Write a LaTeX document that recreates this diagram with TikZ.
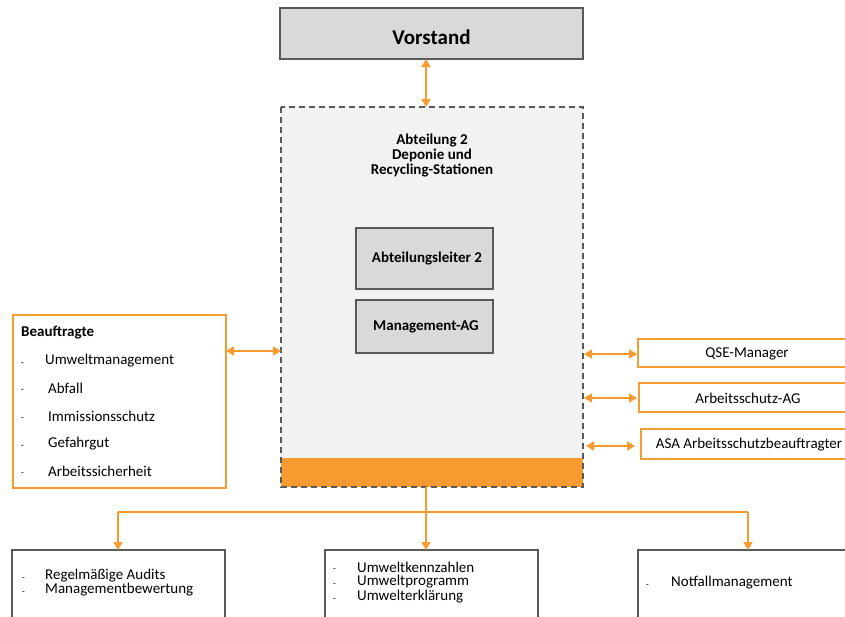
\documentclass[tikz,border=0pt]{standalone}
\usepackage{fontspec}
\setmainfont{Carlito}
\usetikzlibrary{arrows.meta}
\definecolor{org}{RGB}{247,154,47}
\definecolor{gbox}{RGB}{217,217,217}
\definecolor{lgray}{RGB}{242,242,242}
\definecolor{bord}{RGB}{89,89,89}
\tikzset{
  graybox/.style={draw=bord, line width=1.2pt, fill=gbox},
  conn/.style={draw=org, line width=1.5pt, {Triangle[length=8pt,width=9pt]}-{Triangle[length=8pt,width=9pt]}},
  oneway/.style={draw=org, line width=1.5pt, -{Triangle[length=8pt,width=9pt]}},
  line/.style={draw=org, line width=1.5pt},
  txt/.style={inner sep=0pt, anchor=west, font=\fontsize{15}{17}\selectfont},
  stxt/.style={inner sep=0pt, anchor=west, font=\fontsize{15}{17}\selectfont},
  dsh/.style={inner sep=0pt, anchor=west, font=\fontsize{9}{10}\selectfont},
}
\begin{document}
\begin{tikzpicture}[x=1pt,y=-1pt]
\useasboundingbox (0,0) rectangle (845,616);
% Vorstand
\draw[graybox] (280,8) rectangle (583,59);
\node[font=\fontsize{21}{24}\selectfont\bfseries] (vor) at (431.5,37) {Vorstand};
\coordinate (vorb) at (426,59);
% Abteilung big box
\draw[draw=none, fill=lgray] (281,107) rectangle (583,487);
\fill[org] (281,458) rectangle (583,487);
\draw[bord, line width=1.2pt, dash pattern=on 6pt off 4pt] (281,107) rectangle (583,487);
\coordinate (abtt) at (426,107);
\coordinate (abtb) at (426,487);
\coordinate (abtl) at (281,351);
\node[align=center, font=\fontsize{15}{15}\selectfont\bfseries] (abt) at (432,156) {Abteilung 2\\Deponie und\\Recycling-Stationen};
\draw[graybox] (356,228) rectangle (493,289);
\node[font=\fontsize{15}{17}\selectfont\bfseries] (al) at (427,259) {Abteilungsleiter 2};
\draw[graybox] (356,300) rectangle (493,353);
\node[font=\fontsize{15}{17}\selectfont\bfseries] (mag) at (426,327) {Management-AG};
\draw[conn] (vorb) -- (abtt);
% Beauftragte
\draw[draw=org, line width=1.5pt, fill=white] (13,315) rectangle (226,488);
\coordinate (beaur) at (226,351);
\node[inner sep=0pt, anchor=west, font=\fontsize{15}{17}\selectfont\bfseries] (bea) at (21,333) {Beauftragte};
\node[dsh] (d1) at (21,364) {-};
\node[dsh] (d2) at (21,391) {-};
\node[dsh] (d3) at (21,419) {-};
\node[dsh] (d4) at (21,447) {-};
\node[dsh] (d5) at (21,474) {-};
\node[txt] (b1) at (45,361) {Umweltmanagement};
\node[txt] (b2) at (48,388) {Abfall};
\node[txt] (b3) at (48,416) {Immissionsschutz};
\node[txt] (b4) at (48,444) {Gefahrgut};
\node[txt] (b5) at (48,471) {Arbeitssicherheit};
\draw[conn] (beaur) -- (abtl);
% right boxes
\draw[draw=org, line width=1.5pt] (850,339) -- (638,339) -- (638,367) -- (850,367);
\node[txt, anchor=center] (qse) at (747,354) {QSE-Manager};
\draw[draw=org, line width=1.5pt] (850,383) -- (639,383) -- (639,412) -- (850,412);
\node[txt, anchor=center] (asag) at (748,398) {Arbeitsschutz-AG};
\draw[draw=org, line width=1.5pt] (850,429) -- (641,429) -- (641,459) -- (850,459);
\node[txt, anchor=center] (asa) at (749,445) {ASA Arbeitsschutzbeauftragter};
\coordinate (r1a) at (584,354); \coordinate (r1b) at (637,354);
\coordinate (r2a) at (584,398); \coordinate (r2b) at (637,398);
\coordinate (r3a) at (586,446); \coordinate (r3b) at (635,446);
\draw[conn] (r1a) -- (r1b);
\draw[conn] (r2a) -- (r2b);
\draw[conn] (r3a) -- (r3b);
% bottom boxes
\draw[draw=bord, line width=1.2pt] (12,620) -- (12,550) -- (225,550) -- (225,620);
\draw[draw=bord, line width=1.2pt] (325,620) -- (325,550) -- (538,550) -- (538,620);
\draw[draw=bord, line width=1.2pt] (638,620) -- (638,550) -- (850,550);
\coordinate (lb) at (118,550);
\coordinate (mb) at (426,550);
\coordinate (rb) at (748,550);
\coordinate (j1) at (118,512);
\coordinate (j2) at (748,512);
\draw[line] (j1) -- (j2);
\draw[oneway] (abtb) -- (mb);
\draw[oneway] (j1) -- (lb);
\draw[oneway] (j2) -- (rb);
\node[dsh] (e1) at (22,579) {-};
\node[dsh] (e2) at (22,593) {-};
\node[stxt] (l1) at (45,576) {Regelmäßige Audits};
\node[stxt] (l2) at (45,590) {Managementbewertung};
\node[dsh] (f1) at (333,570) {-};
\node[dsh] (f2) at (333,585) {-};
\node[dsh] (f3) at (333,600) {-};
\node[stxt] (m1) at (357,567) {Umweltkennzahlen};
\node[stxt] (m2) at (357,582) {Umweltprogramm};
\node[stxt] (m3) at (357,597) {Umwelterklärung};
\node[dsh] (g1) at (646,586) {-};
\node[stxt] (n1) at (671,583) {Notfallmanagement};
\end{tikzpicture}
\end{document}
